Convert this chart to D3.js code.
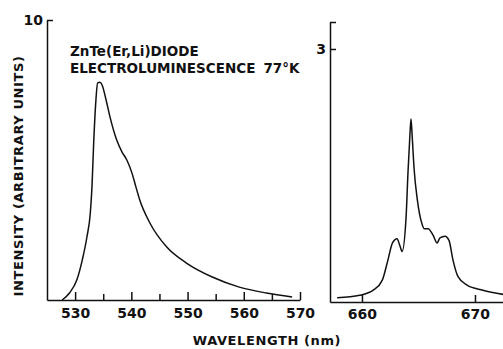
<!DOCTYPE html>
<html>
<head>
<meta charset="utf-8">
<script src="https://cdn.jsdelivr.net/npm/d3@7"></script>
<style>
  body { margin: 0; background: #fff; }
  svg text { font-family: "DejaVu Sans", sans-serif; font-weight: bold; fill: #111; }
</style>
</head>
<body>
<div id="graphContainer"></div>
<script>
// green band (left panel), wavelength in nm / intensity in arbitrary units
const greenWavelength = [527.7, 529.0, 530.3, 531.3, 532.1, 532.7, 533.0, 533.3, 533.7, 534.0, 534.4, 534.8, 535.5, 536.2, 537.4, 538.3, 539.2, 540.1, 540.8, 541.5, 543.3, 546.3, 549.8, 554.4, 559.2, 564.0, 568.6];
const greenIntensity  = [0.0,   0.25,  0.71,  1.45,  2.25,  3.1,   4.04,  5.6,   7.14,  7.75,  7.78,  7.68,  7.15,  6.54,  5.71,  5.3,   5.0,   4.54,  4.05,  3.57,  2.75,  1.89,  1.32,  0.82,  0.46,  0.25,  0.11];

// red lines (right panel)
const redWavelength = [657.8, 659.8, 661.0, 661.8, 662.3, 662.7, 663.1, 663.35, 663.55, 663.9, 664.07, 664.25, 664.34, 664.45, 664.6, 664.9, 665.3, 665.5, 665.85, 666.3, 666.65, 666.9, 667.35, 667.7, 668.05, 668.5, 669.3, 670.7, 672.5];
const redIntensity  = [0.05,  0.08,  0.14,  0.26,  0.50,  0.70,  0.75,  0.67,   0.60,   1.00,  1.53,   2.0,    2.17,   1.95,   1.6,   1.21,  0.93,  0.87,  0.87,   0.79,  0.70,   0.76,  0.78,   0.73,  0.50,   0.30,  0.20,  0.14,  0.09];

const leftTicksMajor = [530, 540, 550, 560, 570];
const leftTicksMinor = [535, 545, 555, 565];
const rightTicks = [660, 670];
const leftYTicks = [10];
const rightYTicks = [3, 3.32]; // top one is the unlabeled end tick

const width = 503, height = 349;
const svg = d3.select('#graphContainer').append('svg')
  .attr('width', width)
  .attr('height', height);

// scales
const xLeft = d3.scaleLinear().domain([525, 570]).range([47, 300]);
const yLeft = d3.scaleLinear().domain([0, 10]).range([300, 20]);
const xRight = d3.scaleLinear().domain([657.17, 672.48]).range([330, 503]);
const yRight = d3.scaleLinear().domain([0, 3.32]).range([302, 22]);

function styleAxis(g) {
  g.selectAll('path.domain').attr('stroke', '#111').attr('stroke-width', 1.5);
  g.selectAll('.tick line').attr('stroke', '#111').attr('stroke-width', 1.5);
  g.selectAll('.tick text')
    .attr('font-size', 14)
    .attr('font-family', '"DejaVu Sans", sans-serif')
    .attr('font-weight', 'bold')
    .attr('fill', '#111');
}

// left panel axes
svg.append('g')
  .attr('transform', `translate(0, ${yLeft(0)})`)
  .call(d3.axisBottom(xLeft).tickValues(leftTicksMajor).tickSizeInner(-8).tickSizeOuter(0).tickPadding(8))
  .call(styleAxis);
svg.append('g')
  .attr('transform', `translate(0, ${yLeft(0)})`)
  .call(d3.axisBottom(xLeft).tickValues(leftTicksMinor).tickSizeInner(-6).tickSizeOuter(0).tickFormat(''))
  .call(g => g.select('path.domain').remove())
  .call(styleAxis);
svg.append('g')
  .attr('transform', `translate(${xLeft(525)}, 0)`)
  .call(d3.axisLeft(yLeft).tickValues(leftYTicks).tickSizeInner(-6).tickSizeOuter(0).tickPadding(4))
  .call(styleAxis);

// right panel axes
svg.append('g')
  .attr('transform', `translate(0, ${yRight(0)})`)
  .call(d3.axisBottom(xRight).tickValues(rightTicks).tickSizeInner(-7).tickSizeOuter(0).tickPadding(7))
  .call(styleAxis);
svg.append('g')
  .attr('transform', `translate(${xRight.range()[0]}, 0)`)
  .call(d3.axisLeft(yRight).tickValues(rightYTicks).tickSizeInner(-6).tickSizeOuter(0).tickPadding(4)
    .tickFormat(d => d === 3 ? '3' : ''))
  .call(styleAxis);

// curves
const lineLeft = d3.line()
  .x((d, i) => xLeft(greenWavelength[i]))
  .y(d => yLeft(d))
  .curve(d3.curveMonotoneX);
svg.append('path')
  .datum(greenIntensity)
  .attr('d', lineLeft)
  .attr('fill', 'none')
  .attr('stroke', '#111')
  .attr('stroke-width', 1.5);

const lineRight = d3.line()
  .x((d, i) => xRight(redWavelength[i]))
  .y(d => yRight(d))
  .curve(d3.curveMonotoneX);
svg.append('path')
  .datum(redIntensity)
  .attr('d', lineRight)
  .attr('fill', 'none')
  .attr('stroke', '#111')
  .attr('stroke-width', 1.5);

// labels
const title = svg.append('text').attr('font-size', 13.5);
title.append('tspan').attr('x', 70).attr('y', 56).text('ZnTe(Er,Li)DIODE');
title.append('tspan').attr('x', 70).attr('y', 73).text('ELECTROLUMINESCENCE');
title.append('tspan').attr('dx', 8).text('77°K');

svg.append('text')
  .attr('transform', 'translate(23, 176) rotate(-90)')
  .attr('text-anchor', 'middle')
  .attr('font-size', 13)
  .attr('letter-spacing', 0.6)
  .text('INTENSITY (ARBITRARY UNITS)');

svg.append('text')
  .attr('x', 267)
  .attr('y', 345)
  .attr('text-anchor', 'middle')
  .attr('font-size', 13)
  .attr('letter-spacing', 0.6)
  .text('WAVELENGTH (nm)');
</script>
</body>
</html>
